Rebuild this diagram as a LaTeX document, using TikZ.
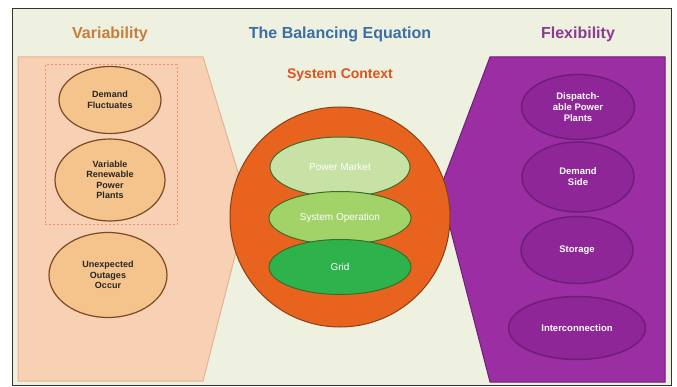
\documentclass[tikz,border=0pt]{standalone}
\usepackage{fontspec}
\setmainfont{Liberation Sans}
\usetikzlibrary{shapes.geometric}
\definecolor{bgc}{HTML}{EEF1DF}
\definecolor{peach}{HTML}{F8D0B4}
\definecolor{peachline}{HTML}{E6B291}
\definecolor{oell}{HTML}{F5C38C}
\definecolor{oellline}{HTML}{7A4A26}
\definecolor{dashc}{HTML}{E8946A}
\definecolor{purp}{HTML}{9C2EA3}
\definecolor{purpline}{HTML}{6E1E78}
\definecolor{pell}{HTML}{8F2697}
\definecolor{orng}{HTML}{E8641E}
\definecolor{orngline}{HTML}{8C3E14}
\definecolor{gA}{HTML}{C8E2A6}
\definecolor{gB}{HTML}{A2D368}
\definecolor{gC}{HTML}{2DB24C}
\definecolor{gline}{HTML}{3F6B2A}
\definecolor{tVar}{HTML}{C87E3A}
\definecolor{tBal}{HTML}{3B6EA5}
\definecolor{tFlex}{HTML}{8B3A8F}
\definecolor{tSys}{HTML}{E0521E}
\tikzset{
  title/.style={font=\fontsize{16}{18}\selectfont\bfseries, inner sep=0pt},
  oellipse/.style={ellipse, fill=oell, draw=oellline, line width=1.2pt, inner sep=0pt,
    align=center, font=\fontsize{9}{10.5}\selectfont\bfseries, text=black!85},
  pellipse/.style={ellipse, fill=pell, draw=purpline, line width=1.5pt, inner sep=0pt,
    align=center, font=\fontsize{9.5}{11}\selectfont\bfseries, text=white},
  gellipse/.style={ellipse, draw=gline, line width=1pt, inner sep=0pt,
    align=center, font=\fontsize{10}{11}\selectfont, text=white}
}
\begin{document}
\begin{tikzpicture}[x=1pt,y=-1pt]
\useasboundingbox (0,0) rectangle (677,387);
\fill[white] (0,0) rectangle (677,387);
\fill[bgc] (12,8) rectangle (671,385);
\draw[black!80, line width=0.8pt] (12,8) rectangle (671,385);
% left shape
\filldraw[fill=peach, draw=peachline, line width=1pt]
  (18,57) -- (203,57) -- (248,205) -- (203,381) -- (18,381) -- cycle;
\draw[dashc, dash pattern=on 2pt off 2pt, line width=1pt] (45,65) rectangle (177,225);
% right shape
\filldraw[fill=purp, draw=purpline, line width=1pt]
  (490,57) -- (665,57) -- (665,382) -- (490,382) -- (440,189) -- cycle;
% titles
\node[title, text=tVar] (tvar) at (110,34) {Variability};
\node[title, text=tBal] (tbal) at (340,34) {The Balancing Equation};
\node[title, text=tFlex] (tflex) at (578,34) {Flexibility};
\node[title, text=tSys, font=\fontsize{14}{16}\selectfont\bfseries] (tsys) at (340,75) {System Context};
% center circle
\node[circle, fill=orng, draw=orngline, line width=1pt, minimum size=220pt, inner sep=0pt] (ctx) at (340,217) {};
\node[gellipse, fill=gA, minimum width=140pt, minimum height=60pt] (pm) at (340,167) {Power Market};
\node[gellipse, fill=gB, minimum width=142pt, minimum height=53pt] (so) at (340,218) {System Operation};
\node[gellipse, fill=gC, minimum width=142pt, minimum height=55pt] (grid) at (340,267) {Grid};
% left ellipses
\node[oellipse, minimum width=102pt, minimum height=67pt] (df) at (110,100) {Demand\\Fluctuates};
\node[oellipse, minimum width=110pt, minimum height=82pt] (vr) at (110,180) {Variable\\Renewable\\Power\\Plants};
\node[oellipse, minimum width=118pt, minimum height=85pt] (uo) at (108,275) {Unexpected\\Outages\\Occur};
% right ellipses
\node[pellipse, minimum width=113pt, minimum height=65pt] (dp) at (578,107) {Dispatch-\\able Power\\Plants};
\node[pellipse, minimum width=112pt, minimum height=70pt] (ds) at (578,177) {Demand\\Side};
\node[pellipse, minimum width=112pt, minimum height=67pt] (st) at (577,250) {Storage};
\node[pellipse, minimum width=137pt, minimum height=63pt] (ic) at (577,328) {Interconnection};
\end{tikzpicture}
\end{document}
